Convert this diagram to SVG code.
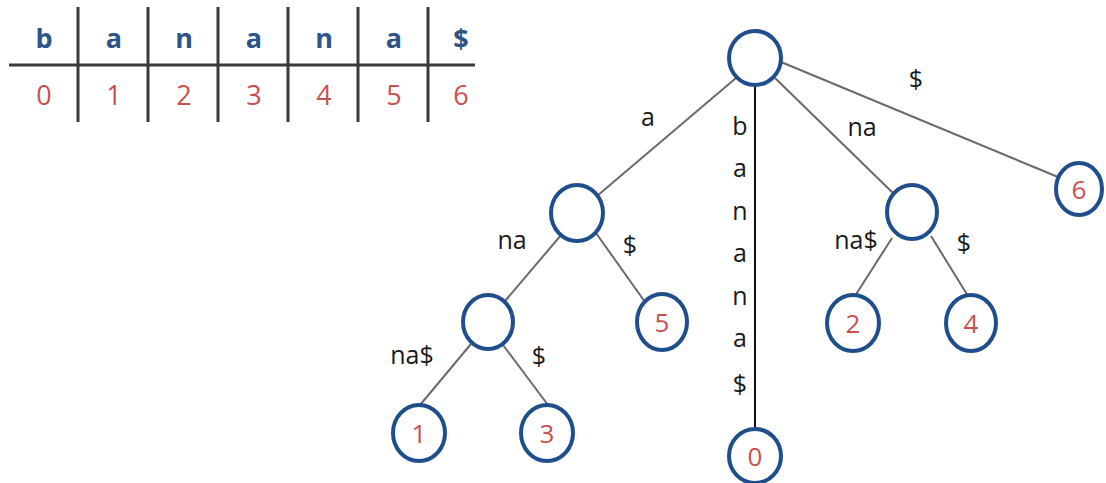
<svg xmlns="http://www.w3.org/2000/svg" width="1106" height="483" viewBox="0 0 1106 483">
  <style>
    .grid { stroke: #3a3a3a; stroke-width: 3; }
    .ch { font-family: "Open Sans", "Liberation Sans", sans-serif; font-size: 27px; font-weight: bold; fill: #2d5588; text-anchor: middle; }
    .ix { font-family: "Open Sans", "Liberation Sans", sans-serif; font-size: 27px; fill: #c9504f; text-anchor: middle; }
    .node { fill: #ffffff; stroke: #1f4e8c; stroke-width: 4; }
    .edge { stroke: #6a6a6a; stroke-width: 2; fill: none; }
    .edge-dark { stroke: #111111; stroke-width: 2; fill: none; }
    .lbl { font-family: "Open Sans", "Liberation Sans", sans-serif; font-size: 25px; fill: #1a1a1a; text-anchor: middle; }
    .num { font-family: "Open Sans", "Liberation Sans", sans-serif; font-size: 26px; fill: #c9504f; text-anchor: middle; }
  </style>

  <!-- suffix array table for "banana$" -->
  <g id="table">
    <line class="grid" x1="9" y1="65" x2="475" y2="65"/>
    <line class="grid" x1="78" y1="7" x2="78" y2="122"/>
    <line class="grid" x1="148" y1="7" x2="148" y2="122"/>
    <line class="grid" x1="218" y1="7" x2="218" y2="122"/>
    <line class="grid" x1="288" y1="7" x2="288" y2="122"/>
    <line class="grid" x1="358" y1="7" x2="358" y2="122"/>
    <line class="grid" x1="428" y1="7" x2="428" y2="122"/>
    <text class="ch" x="44" y="48">b</text>
    <text class="ch" x="114" y="48">a</text>
    <text class="ch" x="184" y="48">n</text>
    <text class="ch" x="254" y="48">a</text>
    <text class="ch" x="324" y="48">n</text>
    <text class="ch" x="394" y="48">a</text>
    <text class="ch" x="461" y="48">$</text>
    <text class="ix" x="44" y="105">0</text>
    <text class="ix" x="114" y="105">1</text>
    <text class="ix" x="184" y="105">2</text>
    <text class="ix" x="254" y="105">3</text>
    <text class="ix" x="324" y="105">4</text>
    <text class="ix" x="394" y="105">5</text>
    <text class="ix" x="461" y="105">6</text>
  </g>

  <!-- tree edges with their labels -->
  <g id="connectors">
    <line class="edge" x1="736" y1="78" x2="597" y2="196"/>
    <line class="edge" x1="775" y1="78" x2="894" y2="194"/>
    <line class="edge" x1="781" y1="62" x2="1058" y2="177"/>
    <line class="edge-dark" x1="755" y1="86" x2="755" y2="428"/>
    <line class="edge" x1="562" y1="234" x2="505" y2="301"/>
    <line class="edge" x1="596" y1="233" x2="645" y2="302"/>
    <line class="edge" x1="471" y1="344" x2="420" y2="405"/>
    <line class="edge" x1="503" y1="345" x2="548" y2="405"/>
    <line class="edge" x1="892" y1="238" x2="855" y2="296"/>
    <line class="edge" x1="931" y1="236" x2="968" y2="296"/>

    <text class="lbl" x="648" y="126">a</text>
    <text class="lbl" x="916" y="88">$</text>
    <text class="lbl" x="862" y="136">na</text>
    <text class="lbl" x="740" y="135">b</text>
    <text class="lbl" x="740" y="177">a</text>
    <text class="lbl" x="740" y="220">n</text>
    <text class="lbl" x="740" y="262">a</text>
    <text class="lbl" x="740" y="305">n</text>
    <text class="lbl" x="740" y="347">a</text>
    <text class="lbl" x="740" y="393">$</text>
    <text class="lbl" x="512" y="249">na</text>
    <text class="lbl" x="630" y="254">$</text>
    <text class="lbl" x="412" y="364">na$</text>
    <text class="lbl" x="539" y="365">$</text>
    <text class="lbl" x="856" y="249">na$</text>
    <text class="lbl" x="964" y="252">$</text>
  </g>

  <!-- tree nodes -->
  <g id="root"><ellipse class="node" cx="755" cy="58" rx="26" ry="27"/></g>
  <g id="node-a"><ellipse class="node" cx="577" cy="213" rx="26" ry="28"/></g>
  <g id="node-na"><ellipse class="node" cx="912" cy="212" rx="25" ry="27"/></g>
  <g id="node-ana"><ellipse class="node" cx="488" cy="322" rx="25" ry="27"/></g>
  <g id="leaf-5"><ellipse class="node" cx="662" cy="322" rx="25" ry="28"/><text class="num" x="662" y="332">5</text></g>
  <g id="leaf-1"><ellipse class="node" cx="419" cy="433" rx="26" ry="28"/><text class="num" x="419" y="443">1</text></g>
  <g id="leaf-3"><ellipse class="node" cx="547" cy="433" rx="26" ry="28"/><text class="num" x="547" y="443">3</text></g>
  <g id="leaf-0"><ellipse class="node" cx="755" cy="456" rx="26" ry="27"/><text class="num" x="755" y="466">0</text></g>
  <g id="leaf-2"><ellipse class="node" cx="853" cy="323" rx="26" ry="28"/><text class="num" x="853" y="333">2</text></g>
  <g id="leaf-4"><ellipse class="node" cx="971" cy="323" rx="25" ry="28"/><text class="num" x="971" y="333">4</text></g>
  <g id="leaf-6"><ellipse class="node" cx="1079" cy="189" rx="23" ry="26"/><text class="num" x="1079" y="199">6</text></g>
</svg>
